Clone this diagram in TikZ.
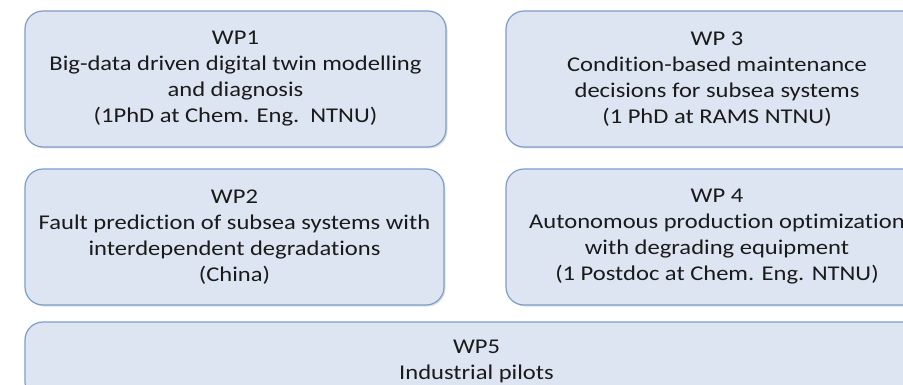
\documentclass[tikz,border=0pt]{standalone}
\usepackage{fontspec}
\setmainfont[FakeStretch=1.17, RawFeature={-liga}]{Carlito}
\usetikzlibrary{shadows}
\definecolor{boxfill}{HTML}{DCE5F1}
\definecolor{boxline}{HTML}{7E9DCB}
\definecolor{txt}{HTML}{1A1A1A}
\begin{document}
\begin{tikzpicture}[x=1pt,y=-1pt,
  wpbox/.style={draw=boxline, fill=boxfill, line width=1.2pt, rounded corners=18pt,
    align=center, inner sep=0pt, text=txt,
    font=\fontsize{21}{26}\selectfont,
    drop shadow={opacity=0.25, shadow xshift=1.5pt, shadow yshift=-1.5pt}}]
\useasboundingbox (0,0) rectangle (903,385);
\clip (0,0) rectangle (903,385);
\fill[white] (0,0) rectangle (903,385);
\node[wpbox, minimum width=421pt, minimum height=136pt] (wp1) at (235.5,79)
  {WP1\\Big-data driven digital twin modelling\\and diagnosis\\(1PhD at Chem. Eng.\ \ NTNU)};
\node[wpbox, minimum width=422pt, minimum height=136pt] (wp3) at (717,79)
  {WP 3\\Condition-based maintenance\\decisions for subsea systems\\(1 PhD at RAMS NTNU)};
\node[wpbox, minimum width=419pt, minimum height=136pt] (wp2) at (234.5,237)
  {WP2\\Fault prediction of subsea systems with\\interdependent degradations\\(China)};
\node[wpbox, minimum width=422pt, minimum height=136pt] (wp4) at (717,237)
  {WP 4\\Autonomous production optimization\\with degrading equipment\\(1 Postdoc at Chem. Eng. NTNU)};
\node[wpbox, minimum width=903pt, minimum height=78pt] (wp5) at (476.5,361)
  {WP5\\Industrial pilots};
\end{tikzpicture}
\end{document}
